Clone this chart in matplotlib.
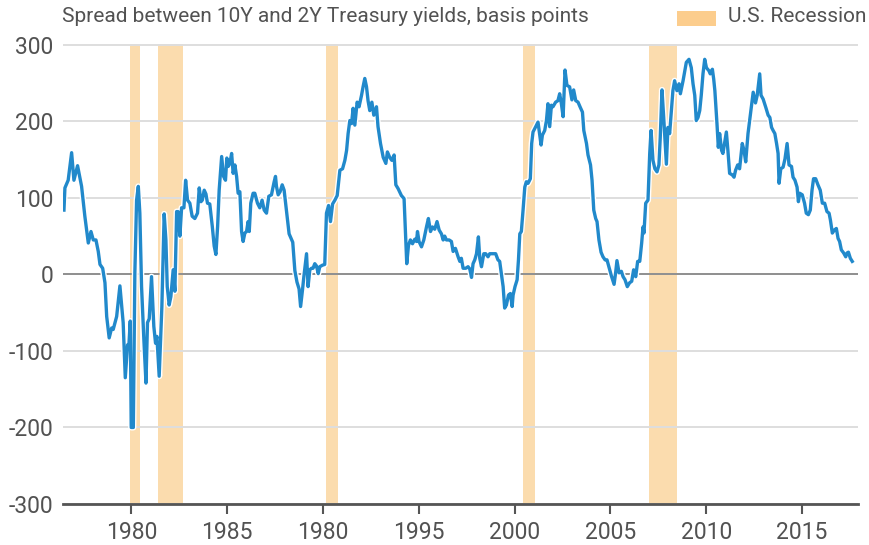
import matplotlib
matplotlib.use('Agg')
import matplotlib.pyplot as plt
import matplotlib.patheffects as pe
from matplotlib.patches import Rectangle

# 10Y-2Y spread, basis points (date in years, as on the axis)
years = [
    1976.48, 1976.53, 1976.70, 1976.88, 1977.00, 1977.19, 1977.40, 1977.57, 1977.75, 1977.89,
    1978.01, 1978.15, 1978.27, 1978.36, 1978.50, 1978.62, 1978.71, 1978.84, 1978.97, 1979.05,
    1979.23, 1979.40, 1979.57, 1979.68, 1979.80, 1979.87, 1979.94, 1979.99, 1980.10, 1980.18,
    1980.27, 1980.36, 1980.44, 1980.53, 1980.65, 1980.76, 1980.84, 1980.93, 1981.05, 1981.17,
    1981.26, 1981.33, 1981.45, 1981.59, 1981.71, 1981.80, 1981.87, 1981.97, 1982.06, 1982.18,
    1982.27, 1982.36, 1982.44, 1982.53, 1982.62, 1982.74, 1982.83, 1982.93, 1983.05, 1983.17,
    1983.31, 1983.45, 1983.54, 1983.63, 1983.70, 1983.80, 1983.89, 1983.97, 1984.09, 1984.22,
    1984.32, 1984.41, 1984.50, 1984.58, 1984.71, 1984.81, 1984.91, 1984.98, 1985.05, 1985.14,
    1985.23, 1985.31, 1985.40, 1985.49, 1985.57, 1985.66, 1985.75, 1985.83, 1985.92, 1986.01,
    1986.09, 1986.15, 1986.23, 1986.35, 1986.44, 1986.58, 1986.70, 1986.82, 1986.93, 1987.05,
    1987.17, 1987.31, 1987.45, 1987.52, 1987.57, 1987.66, 1987.76, 1987.87, 1987.97, 1988.12,
    1988.23, 1988.42, 1988.53, 1988.64, 1988.75, 1988.83, 1988.93, 1989.00, 1989.14, 1989.22,
    1989.31, 1989.40, 1989.48, 1989.57, 1989.66, 1989.75, 1989.83, 1989.97, 1990.09, 1990.18,
    1990.29, 1990.39, 1990.50, 1990.62, 1990.74, 1990.88, 1991.02, 1991.14, 1991.23, 1991.31,
    1991.40, 1991.49, 1991.57, 1991.66, 1991.78, 1991.88, 1992.01, 1992.09, 1992.18, 1992.27,
    1992.35, 1992.44, 1992.55, 1992.65, 1992.79, 1992.87, 1993.00, 1993.14, 1993.28, 1993.36,
    1993.48, 1993.59, 1993.71, 1993.80, 1993.92, 1994.09, 1994.23, 1994.32, 1994.37, 1994.46,
    1994.56, 1994.67, 1994.79, 1994.88, 1994.93, 1995.01, 1995.14, 1995.26, 1995.40, 1995.50,
    1995.61, 1995.71, 1995.83, 1995.95, 1996.06, 1996.18, 1996.27, 1996.35, 1996.44, 1996.58,
    1996.70, 1996.79, 1996.91, 1997.05, 1997.14, 1997.22, 1997.31, 1997.45, 1997.57, 1997.66,
    1997.75, 1997.83, 1997.92, 1998.01, 1998.11, 1998.18, 1998.27, 1998.39, 1998.49, 1998.61,
    1998.70, 1998.87, 1999.01, 1999.13, 1999.22, 1999.31, 1999.40, 1999.48, 1999.57, 1999.68,
    1999.78, 1999.87, 1999.92, 2000.02, 2000.13, 2000.20, 2000.27, 2000.35, 2000.44, 2000.53,
    2000.61, 2000.70, 2000.82, 2000.89, 2000.96, 2001.10, 2001.22, 2001.31, 2001.38, 2001.45,
    2001.57, 2001.66, 2001.74, 2001.83, 2001.92, 2002.00, 2002.14, 2002.26, 2002.35, 2002.44,
    2002.53, 2002.63, 2002.73, 2002.87, 2002.99, 2003.08, 2003.19, 2003.31, 2003.43, 2003.54,
    2003.61, 2003.75, 2003.83, 2003.96, 2004.04, 2004.13, 2004.23, 2004.30, 2004.40, 2004.51,
    2004.61, 2004.72, 2004.82, 2004.92, 2005.05, 2005.19, 2005.27, 2005.34, 2005.45, 2005.57,
    2005.66, 2005.76, 2005.88, 2006.00, 2006.11, 2006.21, 2006.32, 2006.42, 2006.53, 2006.63,
    2006.70, 2006.75, 2006.84, 2006.96, 2007.05, 2007.12, 2007.22, 2007.32, 2007.43, 2007.53,
    2007.60, 2007.69, 2007.78, 2007.87, 2007.92, 2008.00, 2008.09, 2008.18, 2008.26, 2008.35,
    2008.47, 2008.58, 2008.65, 2008.79, 2008.88, 2008.96, 2009.10, 2009.22, 2009.31, 2009.40,
    2009.48, 2009.57, 2009.66, 2009.74, 2009.83, 2009.92, 2010.01, 2010.14, 2010.21, 2010.32,
    2010.39, 2010.45, 2010.56, 2010.63, 2010.70, 2010.80, 2010.87, 2010.94, 2011.05, 2011.13,
    2011.22, 2011.36, 2011.45, 2011.53, 2011.64, 2011.74, 2011.88, 2011.97, 2012.06, 2012.18,
    2012.31, 2012.45, 2012.57, 2012.66, 2012.79, 2012.86, 2012.97, 2013.11, 2013.23, 2013.32,
    2013.41, 2013.49, 2013.58, 2013.67, 2013.75, 2013.80, 2013.89, 2014.01, 2014.11, 2014.22,
    2014.32, 2014.45, 2014.53, 2014.63, 2014.74, 2014.81, 2014.88, 2015.01, 2015.13, 2015.22,
    2015.33, 2015.43, 2015.52, 2015.60, 2015.71, 2015.83, 2015.95, 2016.06, 2016.18, 2016.30,
    2016.41, 2016.48, 2016.58, 2016.69, 2016.79, 2016.88, 2016.96, 2017.05, 2017.17, 2017.28,
    2017.35, 2017.42, 2017.52, 2017.62,
]
spread = [
    84, 113, 123, 159, 123, 142, 115, 76, 41, 56,
    45, 45, 30, 13, 8, -11, -55, -83, -70, -72,
    -55, -15, -63, -135, -92, -92, -61, -200, -200, 2,
    97, 115, 80, -16, -85, -142, -63, -58, -3, -68,
    -90, -81, -133, -42, 79, 45, -16, -40, -29, 6,
    -22, 82, 82, 50, 87, 87, 123, 97, 93, 76,
    73, 80, 113, 95, 97, 110, 105, 93, 92, 63,
    37, 26, 63, 110, 154, 128, 123, 152, 141, 145,
    158, 132, 143, 128, 106, 108, 56, 43, 54, 56,
    69, 56, 93, 106, 106, 93, 87, 97, 84, 80,
    102, 104, 121, 128, 115, 104, 108, 117, 110, 77,
    53, 42, 5, -10, -19, -42, -20, -3, 27, -16,
    6, 8, 8, 14, 11, 1, 10, 12, 13, 80,
    90, 69, 92, 97, 103, 136, 138, 149, 162, 184,
    201, 197, 217, 195, 225, 219, 234, 245, 256, 245,
    227, 214, 225, 208, 219, 193, 171, 153, 145, 160,
    153, 149, 156, 117, 112, 103, 99, 45, 14, 38,
    45, 40, 46, 43, 56, 43, 36, 45, 62, 73,
    56, 62, 59, 69, 58, 53, 45, 50, 45, 45,
    43, 30, 34, 23, 17, 21, 8, 8, 10, 7,
    -4, 14, 19, 27, 49, 21, 10, 27, 27, 23,
    27, 27, 27, 19, 17, 1, -16, -44, -40, -27,
    -25, -42, -27, -16, -7, 19, 53, 56, 84, 114,
    121, 119, 125, 171, 186, 193, 199, 182, 169, 182,
    188, 201, 223, 193, 221, 219, 225, 227, 236, 223,
    206, 267, 247, 245, 228, 241, 227, 225, 218, 212,
    188, 171, 156, 143, 123, 84, 73, 69, 45, 29,
    23, 19, 19, 10, -2, -13, 2, 18, 2, 4,
    -3, -7, -16, -11, -9, 6, -3, 17, 17, 41,
    62, 54, 93, 97, 158, 188, 149, 138, 134, 143,
    179, 241, 205, 166, 144, 192, 184, 214, 240, 253,
    240, 249, 236, 253, 266, 277, 281, 270, 249, 234,
    201, 205, 214, 234, 262, 281, 270, 266, 262, 268,
    255, 240, 197, 166, 184, 162, 158, 169, 186, 162,
    132, 130, 127, 136, 143, 138, 171, 162, 147, 184,
    210, 238, 224, 234, 262, 234, 229, 218, 208, 205,
    192, 188, 184, 171, 158, 119, 138, 140, 151, 171,
    143, 141, 127, 123, 114, 95, 106, 104, 93, 80,
    78, 84, 110, 125, 125, 117, 110, 93, 93, 82,
    80, 71, 54, 58, 60, 47, 43, 32, 28, 23,
    28, 29, 21, 17,
]

# recession periods, as shaded on the chart
rec_start = [1979.92, 1981.38, 1990.15, 2000.42, 2006.99]
rec_end = [1980.44, 1982.69, 1990.78, 2001.05, 2008.45]

xtick_pos = [1980, 1985, 1990, 1995, 2000, 2005, 2010, 2015]
xtick_labels = ['1980', '1985', '1980', '1995', '2000', '2005', '2010', '2015']
ytick_pos = [300, 200, 100, 0, -100, -200, -300]
ytick_labels = ['300', '200', '100', '0', '-100', '-200', '-300']

title = 'Spread between 10Y and 2Y Treasury yields, basis points'
legend_label = 'U.S. Recession'

line_color = '#2189cb'
band_color = '#fbdcae'
legend_color = '#fccd8d'
text_color = '#525252'

plt.rcParams['font.family'] = ['Roboto', 'DejaVu Sans']

fig = plt.figure(figsize=(8.7, 5.45), dpi=100)
W, H = 870, 545
ax = fig.add_axes([63 / W, 1 - 504 / H, (858 - 63) / W, (504 - 44) / H])

for s, e in zip(rec_start, rec_end):
    ax.axvspan(s, e, color=band_color, lw=0, zorder=0)

ax.grid(axis='y', color='#dedede', lw=1.4, zorder=1)
ax.axhline(0, color='#8f8f8f', lw=1.4, zorder=2)

ax.plot(years, spread, color=line_color, lw=2.4, zorder=3,
        solid_joinstyle='round',
        path_effects=[pe.Stroke(linewidth=4.4, foreground='white'), pe.Normal()])

ax.set_xlim(1976.43, 2017.92)
ax.set_ylim(-300, 301)
ax.set_xticks(xtick_pos)
ax.set_xticklabels(xtick_labels)
ax.set_yticks(ytick_pos)
ax.set_yticklabels(ytick_labels)

for side in ['left', 'right', 'top']:
    ax.spines[side].set_visible(False)
ax.spines['bottom'].set_color('#555555')
ax.spines['bottom'].set_linewidth(2)
ax.spines['bottom'].set_zorder(4)

ax.tick_params(axis='x', length=7, width=1.5, color='#555555', labelsize=16.5,
               labelcolor=text_color, pad=5)
ax.tick_params(axis='y', length=0, labelsize=16.5, labelcolor=text_color, pad=7)

fig.text(62 / W, 1 - 17 / H, title, fontsize=15, color=text_color,
         ha='left', va='center')
fig.patches.append(Rectangle((677 / W, 1 - 26 / H), 39 / W, 15 / H,
                             transform=fig.transFigure, color=legend_color, lw=0))
fig.text(728 / W, 1 - 17 / H, legend_label, fontsize=15, color=text_color,
         ha='left', va='center')

fig.savefig('out.png', dpi=100)
